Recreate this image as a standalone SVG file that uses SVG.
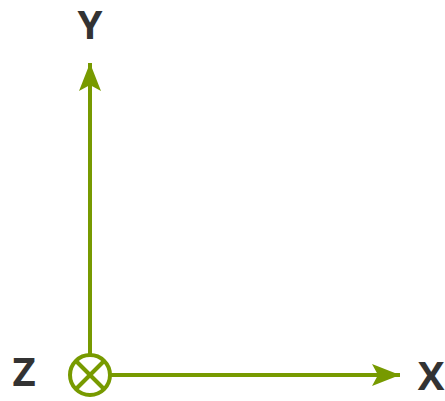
<svg xmlns="http://www.w3.org/2000/svg" width="445" height="401" viewBox="0 0 445 401">
<style>
.ax{stroke:#779a00;stroke-width:4;fill:none}
.lbl{font-family:"Open Sans","DejaVu Sans",sans-serif;font-weight:bold;font-size:40px;fill:#333;text-anchor:middle}
</style>
<defs>
<marker id="ah" markerWidth="28" markerHeight="22" refX="28" refY="11" orient="auto" markerUnits="userSpaceOnUse">
<path d="M0,0 L28,11 L0,22 L6,11 Z" fill="#779a00"/>
</marker>
</defs>
<g id="connectors">
<line class="ax" x1="90" y1="355" x2="90" y2="63" marker-end="url(#ah)"/>
<line class="ax" x1="110" y1="375" x2="400" y2="375" marker-end="url(#ah)"/>
</g>
<g id="origin">
<circle class="ax" cx="90" cy="375" r="20"/>
<line class="ax" x1="76" y1="361" x2="104" y2="389"/>
<line class="ax" x1="104" y1="361" x2="76" y2="389"/>
</g>
<g id="labelY"><text class="lbl" x="90" y="39">Y</text></g>
<g id="labelZ"><text class="lbl" x="24" y="386">Z</text></g>
<g id="labelX"><text class="lbl" x="431" y="390">X</text></g>
</svg>
